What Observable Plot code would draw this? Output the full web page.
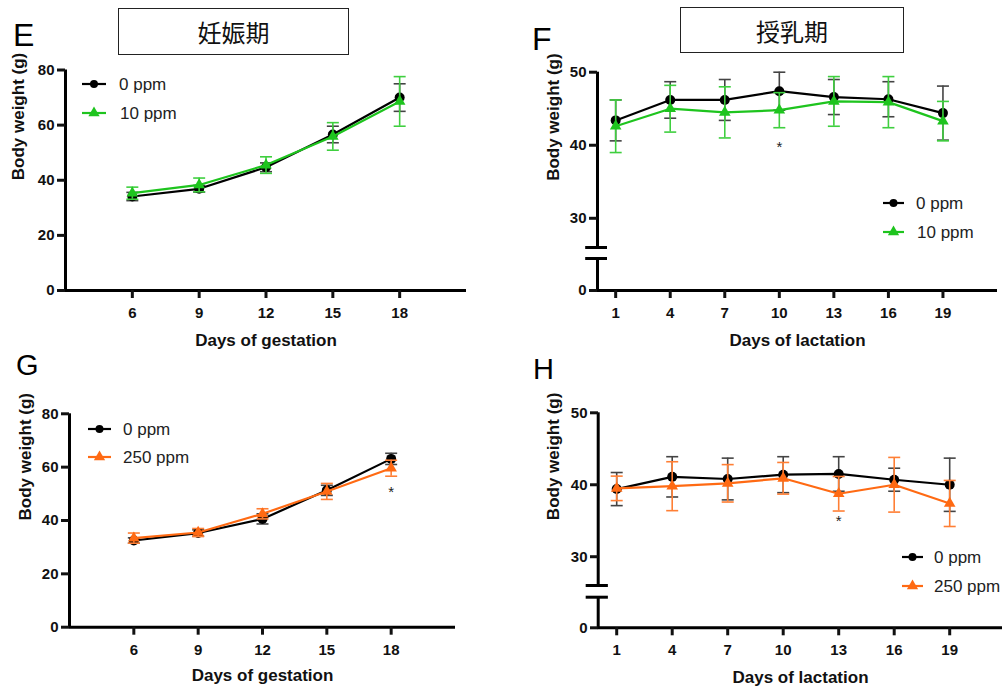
<!DOCTYPE html>
<html><head><meta charset="utf-8">
<script src="https://cdn.jsdelivr.net/npm/d3@7"></script>
<script src="https://cdn.jsdelivr.net/npm/@observablehq/plot@0.6"></script>
<style>
body{margin:0;background:#fff;}
#fig{position:relative;width:1002px;height:688px;overflow:hidden;font-family:"Liberation Sans",Arial,sans-serif;background:#fff;}
.panel{position:absolute;}
.letter{position:absolute;line-height:1;color:#000;font-family:"Liberation Sans",Arial,sans-serif;}
.tbox{position:absolute;border:1.5px solid #222;box-sizing:border-box;display:flex;align-items:center;justify-content:center;font-family:"Noto Sans CJK JP","Noto Sans CJK SC",sans-serif;font-size:24px;color:#111;}
.legtext{position:absolute;font-size:17px;line-height:1;color:#222;white-space:nowrap;}
.legsw{position:absolute;}
</style></head><body><div id="fig"></div>
<script>
// ---------- data ----------
const gestDays = [6, 9, 12, 15, 18];
const lactDays = [1, 4, 7, 10, 13, 16, 19];

const seriesCtrl = "0 ppm";
const seriesLow = "10 ppm";
const seriesHigh = "250 ppm";

// E: gestation, 0 vs 10 ppm
const eCtrlMean = [34.1, 36.9, 44.7, 56.6, 70.0];
const eCtrlSD   = [1.5, 1.2, 1.6, 3.0, 5.0];
const eLowMean  = [35.3, 38.3, 45.5, 55.9, 68.6];
const eLowSD    = [2.2, 2.5, 3.0, 5.0, 9.0];
// F: lactation, 0 vs 10 ppm
const fCtrlMean = [43.4, 46.2, 46.2, 47.4, 46.6, 46.3, 44.4];
const fCtrlSD   = [2.8, 2.5, 2.8, 2.6, 2.4, 2.4, 3.7];
const fLowMean  = [42.6, 45.0, 44.5, 44.8, 46.0, 45.9, 43.3];
const fLowSD    = [3.6, 3.2, 3.5, 2.4, 3.4, 3.5, 2.7];
// G: gestation, 0 vs 250 ppm
const gCtrlMean = [32.5, 35.3, 40.6, 51.3, 63.1];
const gCtrlSD   = [1.0, 1.2, 1.9, 1.9, 2.1];
const gHighMean = [33.4, 35.5, 42.5, 50.9, 59.6];
const gHighSD   = [1.9, 1.5, 1.9, 3.0, 3.0];
// H: lactation, 0 vs 250 ppm
const hCtrlMean = [39.4, 41.1, 40.8, 41.4, 41.5, 40.7, 40.0];
const hCtrlSD   = [2.3, 2.8, 2.9, 2.5, 2.4, 1.6, 3.7];
const hHighMean = [39.5, 39.8, 40.2, 40.9, 38.75, 40.0, 37.4];
const hHighSD   = [1.7, 3.4, 2.6, 2.2, 2.4, 3.8, 3.2];

// significance marks: [day, y]
const fSig = [[10, 40.1]];
const gSig = [[18, 51.9]];
const hSig = [[13, 35.3]];

const gestTicksY = [0, 20, 40, 60, 80];
const lactTicksUpper = [30, 40, 50];
const lactTicksLower = [0];
const lactUpperDomain = [26, 50];
const lactLowerDomain = [0, 4];
const xLabelGest = "Days of gestation";
const xLabelLact = "Days of lactation";
const yLabel = "Body weight (g)";
const titleGest = "妊娠期";
const titleLact = "授乳期";

// ---------- drawing ----------
const BLACK = "#000", GREEN = "#1ec41e", ORANGE = "#ff6a13";
const ERR = {"#000": "#444", "#1ec41e": "#3fcf3f", "#ff6a13": "#ff7f35"};
const FONT = "'Liberation Sans', Arial, sans-serif";

const capSymbol = {draw(ctx, size) { const r = Math.sqrt(size / Math.PI); ctx.moveTo(-r, 0); ctx.lineTo(r, 0); }};

function rowsOf(days, mean, sd) { return days.map((d, i) => ({day: d, mean: mean[i], sd: sd[i]})); }

function seriesMarks(rows, color, symbol, r) {
  const ec = ERR[color];
  return [
    Plot.ruleX(rows, {x: "day", y1: d => d.mean - d.sd, y2: d => d.mean + d.sd, stroke: ec, strokeWidth: 1.6}),
    Plot.dot(rows, {x: "day", y: d => d.mean - d.sd, symbol: capSymbol, r: 6, stroke: ec, fill: "none", strokeWidth: 1.6}),
    Plot.dot(rows, {x: "day", y: d => d.mean + d.sd, symbol: capSymbol, r: 6, stroke: ec, fill: "none", strokeWidth: 1.6}),
    Plot.line(rows, {x: "day", y: "mean", stroke: color, strokeWidth: 2.2}),
    Plot.dot(rows, {x: "day", y: "mean", symbol, r, fill: color, stroke: "none"})
  ];
}

const fig = document.getElementById("fig");
function place(svg, left, top) {
  const wrap = document.createElement("div");
  wrap.className = "panel";
  wrap.style.left = left + "px"; wrap.style.top = top + "px";
  wrap.appendChild(svg); fig.appendChild(wrap);
}
function basePlot(o, marks) {
  return Plot.plot({
    width: o.width, height: o.height,
    marginLeft: o.mL, marginRight: o.mR, marginTop: o.mT, marginBottom: o.mB,
    x: o.x, y: o.y,
    style: {fontFamily: FONT, fontSize: "15px", fontWeight: "bold", background: "transparent", color: "#111"},
    marks
  });
}
const xAxisMarks = (cfg) => [
  Plot.ruleY([0], {x1: cfg.xDomain[0], x2: cfg.xDomain[1], stroke: "#000", strokeWidth: 3}),
  Plot.axisX({ticks: cfg.days, tickFormat: "d", tickSize: 8, tickPadding: 9, strokeWidth: 3, label: null, fill: "#111"}),
  Plot.text([cfg.xLabel], {text: d => d, frameAnchor: "bottom", dy: cfg.xTitleDy, fontSize: 17, fontWeight: "bold", fill: "#111"})
];
const yTitle = (dx, dy) => Plot.text([yLabel], {text: d => d, frameAnchor: "left", dx, dy, rotate: -90, fontSize: 17, fontWeight: "bold", fill: "#111"});

// continuous-axis panel (gestation)
function fullPanel(cfg) {
  const ctrl = rowsOf(cfg.days, cfg.ctrlMean, cfg.ctrlSD);
  const trt = rowsOf(cfg.days, cfg.trtMean, cfg.trtSD);
  const marks = [
    Plot.ruleX([cfg.xDomain[0]], {y1: cfg.yDomain[0], y2: cfg.yDomain[1], stroke: "#000", strokeWidth: 3}),
    ...xAxisMarks(cfg),
    Plot.axisY({ticks: cfg.yTicks, tickFormat: "d", tickSize: 8, tickPadding: 3, strokeWidth: 3, label: null, fill: "#111"}),
    yTitle(cfg.yTitleDx, 0),
    ...seriesMarks(ctrl, BLACK, "circle", 5),
    ...seriesMarks(trt, cfg.color, "triangle", 4.3)
  ];
  if (cfg.sig) marks.push(Plot.text(cfg.sig, {x: d => d[0], y: d => d[1], text: () => "*", fontSize: 15, fontWeight: "normal", fill: "#222", dy: 3}));
  place(basePlot({...cfg, x: {domain: cfg.xDomain}, y: {domain: cfg.yDomain}}, marks), cfg.left, cfg.top);
}

// broken-axis panel (lactation): upper part carries the data, lower part the 0 and the x axis
function brokenPanel(cfg) {
  const ctrl = rowsOf(cfg.days, cfg.ctrlMean, cfg.ctrlSD);
  const trt = rowsOf(cfg.days, cfg.trtMean, cfg.trtSD);
  const x0 = cfg.xDomain[0];
  const xs = {domain: cfg.xDomain, range: cfg.xRange, axis: null};
  const up = cfg.upper, lo = cfg.lower;
  const upperMarks = [
    Plot.ruleX([x0], {y1: lactUpperDomain[0], y2: lactUpperDomain[1], stroke: "#000", strokeWidth: 3}),
    Plot.ruleY([lactUpperDomain[0]], {x1: x0 - 0.65, x2: x0 + 0.55, stroke: "#000", strokeWidth: 3}),
    Plot.axisY({ticks: lactTicksUpper, tickFormat: "d", tickSize: 8, tickPadding: 3, strokeWidth: 3, label: null, fill: "#111"}),
    yTitle(cfg.yTitleDx, cfg.yTitleDy),
    ...seriesMarks(ctrl, BLACK, "circle", 5),
    ...seriesMarks(trt, cfg.color, "triangle", 4.3),
    Plot.text(cfg.sig, {x: d => d[0], y: d => d[1], text: () => "*", fontSize: 15, fontWeight: "normal", fill: "#222", dy: 3})
  ];
  place(basePlot({width: cfg.width, height: up.height, mL: cfg.mL, mR: cfg.mR, mT: up.mT, mB: up.mB,
    x: xs, y: {domain: lactUpperDomain}}, upperMarks), cfg.left, cfg.top);
  const lowerMarks = [
    Plot.ruleX([x0], {y1: lactLowerDomain[0], y2: lactLowerDomain[1], stroke: "#000", strokeWidth: 3}),
    Plot.ruleY([lactLowerDomain[1]], {x1: x0 - 0.65, x2: x0 + 0.55, stroke: "#000", strokeWidth: 3}),
    Plot.axisY({ticks: lactTicksLower, tickFormat: "d", tickSize: 8, tickPadding: 3, strokeWidth: 3, label: null, fill: "#111"}),
    ...xAxisMarks(cfg)
  ];
  place(basePlot({width: cfg.width, height: lo.height, mL: cfg.mL, mR: cfg.mR, mT: lo.mT, mB: lo.mB,
    x: {domain: cfg.xDomain, range: cfg.xRange}, y: {domain: lactLowerDomain}}, lowerMarks), cfg.left, cfg.top + up.height);
}

fullPanel({left: 0, top: 0, width: 500, height: 350, mL: 65, mR: 34, mT: 69.5, mB: 60,
  days: gestDays, xDomain: [3, 21], yDomain: [0, 80], yTicks: gestTicksY,
  ctrlMean: eCtrlMean, ctrlSD: eCtrlSD, trtMean: eLowMean, trtSD: eLowSD, color: GREEN,
  xLabel: xLabelGest, xTitleDy: 55, yTitleDx: -47});
fullPanel({left: 0, top: 350, width: 500, height: 338, mL: 69, mR: 45, mT: 63.3, mB: 61.3,
  days: gestDays, xDomain: [3, 21], yDomain: [0, 80], yTicks: gestTicksY,
  ctrlMean: gCtrlMean, ctrlSD: gCtrlSD, trtMean: gHighMean, trtSD: gHighSD, color: ORANGE, sig: gSig,
  xLabel: xLabelGest, xTitleDy: 54, yTitleDx: -44});
brokenPanel({left: 500, top: 0, width: 502, mL: 97, mR: 5, xRange: [97, 497],
  upper: {height: 252, mT: 71.7, mB: 5}, lower: {height: 98, mT: 6, mB: 60},
  days: lactDays, xDomain: [0, 22],
  ctrlMean: fCtrlMean, ctrlSD: fCtrlSD, trtMean: fLowMean, trtSD: fLowSD, color: GREEN, sig: fSig,
  xLabel: xLabelLact, xTitleDy: 55, yTitleDx: -44, yTitleDy: 21});
brokenPanel({left: 500, top: 350, width: 502, mL: 98, mR: 0, xRange: [97.7, 504.7],
  upper: {height: 241, mT: 62.3, mB: 6}, lower: {height: 97, mT: 5.7, mB: 60.7},
  days: lactDays, xDomain: [0, 22],
  ctrlMean: hCtrlMean, ctrlSD: hCtrlSD, trtMean: hHighMean, trtSD: hHighSD, color: ORANGE, sig: hSig,
  xLabel: xLabelLact, xTitleDy: 55, yTitleDx: -45, yTitleDy: 21});

// panel letters
const letters = [["E", 13, 19, 32], ["F", 532, 23, 32], ["G", 16, 351, 29], ["H", 533, 355, 29]];
for (const [t, x, y, fs] of letters) {
  const d = document.createElement("div"); d.className = "letter";
  d.style.left = x + "px"; d.style.top = y + "px"; d.style.fontSize = fs + "px"; d.textContent = t; fig.appendChild(d);
}
// title boxes
const boxes = [[titleGest, 118, 8, 231, 47], [titleLact, 680, 7, 224, 46]];
for (const [t, x, y, w, h] of boxes) {
  const d = document.createElement("div"); d.className = "tbox";
  Object.assign(d.style, {left: x + "px", top: y + "px", width: w + "px", height: h + "px"});
  d.textContent = t; fig.appendChild(d);
}
// legends: [label, color, symbol, lineX0, lineX1, y, textX]
const legends = [
  [seriesCtrl, BLACK, "circle", 82, 106, 84, 119], [seriesLow, GREEN, "triangle", 82, 106, 113, 120],
  [seriesCtrl, BLACK, "circle", 883, 904, 203, 916], [seriesLow, GREEN, "triangle", 883, 904, 232, 917],
  [seriesCtrl, BLACK, "circle", 88, 111, 429, 123], [seriesHigh, ORANGE, "triangle", 88, 111, 457, 123],
  [seriesCtrl, BLACK, "circle", 902, 923, 557, 934], [seriesHigh, ORANGE, "triangle", 902, 923, 586, 934]
];
const NS = "http://www.w3.org/2000/svg";
for (const [label, color, sym, lx0, lx1, y, tx] of legends) {
  const w = lx1 - lx0;
  const s = document.createElementNS(NS, "svg");
  s.setAttribute("width", w + 2); s.setAttribute("height", 14); s.setAttribute("class", "legsw");
  s.style.left = (lx0 - 1) + "px"; s.style.top = (y - 7) + "px";
  const ln = document.createElementNS(NS, "line");
  ln.setAttribute("x1", 1); ln.setAttribute("x2", w + 1); ln.setAttribute("y1", 7); ln.setAttribute("y2", 7);
  ln.setAttribute("stroke", color); ln.setAttribute("stroke-width", 2.2); s.appendChild(ln);
  const p = document.createElementNS(NS, "path");
  const symb = sym === "circle" ? d3.symbolCircle : d3.symbolTriangle;
  p.setAttribute("d", d3.symbol(symb, sym === "circle" ? 50 : 55)());
  p.setAttribute("transform", `translate(${w / 2 + 1},7)`); p.setAttribute("fill", color); s.appendChild(p);
  fig.appendChild(s);
  const t = document.createElement("div"); t.className = "legtext";
  t.style.left = tx + "px"; t.style.top = (y - 8.5) + "px"; t.textContent = label; fig.appendChild(t);
}
</script></body></html>
